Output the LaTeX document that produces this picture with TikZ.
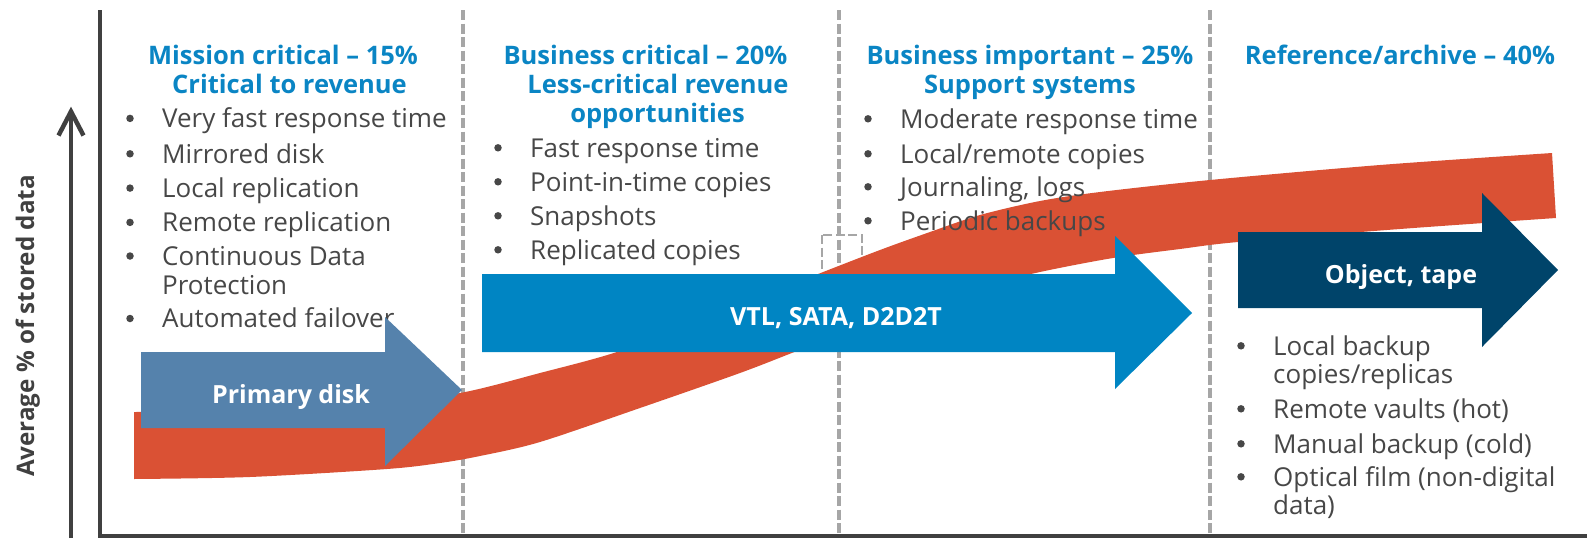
\documentclass[tikz,border=0pt]{standalone}
\usepackage{fontspec}
\setmainfont{Open Sans}
\definecolor{titleblue}{HTML}{0A85C4}
\definecolor{bodygray}{HTML}{474747}
\definecolor{framegray}{HTML}{404040}
\definecolor{divgray}{HTML}{A6A6A6}
\definecolor{bandorange}{HTML}{DA5134}
\definecolor{primblue}{HTML}{5582AC}
\definecolor{vtlblue}{HTML}{0085C3}
\definecolor{tapenavy}{HTML}{00446A}
\tikzset{
  coltitle/.style={text=titleblue, font=\bfseries\fontsize{25.5}{30}\selectfont, anchor=base, inner sep=0pt},
  item/.style={text=bodygray, font=\fontsize{26}{30}\selectfont, anchor=base west, inner sep=0pt},
  bul/.style={circle, fill=bodygray, inner sep=0pt, minimum size=7.5pt},
  arrlabel/.style={text=white, font=\bfseries\fontsize{25}{30}\selectfont, anchor=base, inner sep=0pt},
  divider/.style={divgray, line width=3.3pt, dash pattern=on 10pt off 3.5pt},
  frameline/.style={framegray, line width=4.5pt},
}
\begin{document}
\begin{tikzpicture}[x=1pt,y=-1pt]
\useasboundingbox (0,0) rectangle (1587,538);
% dividers
\foreach \dx in {463,839,1210} {\draw[divider] (\dx,10) -- (\dx,534);}
\draw[divider, line width=2.8pt, dash pattern=on 9pt off 3.5pt] (822,235) rectangle (862,300);
% orange band
\fill[bandorange] plot[smooth, tension=0.5] coordinates {(134,412) (250,411) (360,406) (460,393) (540,373) (620,351) (720,313) (813,276) (880,250) (930,232) (980,215) (1040,201) (1100,192) (1210,180) (1380,165) (1552,153)}
  -- plot[smooth, tension=0.5] coordinates {(1556,218) (1400,229) (1238,242) (1180,249) (1113,258) (1040,272) (980,287) (920,305) (860,327) (797,351) (740,373) (640,408) (540,442) (480,456) (440,463) (387,469) (250,477) (134,479)} -- cycle;
% frame
\draw[frameline] (100,10) -- (100,536) -- (1587,536);
\coordinate (ybot) at (71,538);
\coordinate (ytop) at (71,113);
\draw[frameline] (ybot) -- (ytop);
\draw[frameline, line join=miter] (58.5,135.5) -- (71,111.5) -- (83.5,135.5);
\node[rotate=90, anchor=base, inner sep=0pt, text=framegray, font=\bfseries\fontsize{24.2}{28}\selectfont] (ylab) at (34,326) {Average \% of stored data};
% column 1
\node[coltitle] (t1a) at (283,64.5) {Mission critical – 15\%};
\node[coltitle] (t1b) at (289.5,93.7) {Critical to revenue};
\foreach \yy/\tx [count=\i] in {127.6/Very fast response time,163/Mirrored disk,197.3/Local replication,231.6/Remote replication,265.2/Continuous Data,327.7/Automated failover} {
  \node[bul] (b1\i) at (130,\yy-9.2) {};
  \node[item] (i1\i) at (162,\yy) {\tx};
}
\node[item] (i1p) at (162,294.4) {Protection};
% column 2
\node[coltitle] (t2a) at (645.5,64) {Business critical – 20\%};
\node[coltitle] (t2b) at (658,93) {Less-critical revenue};
\node[coltitle] (t2c) at (657.5,122) {opportunities};
\foreach \yy/\tx [count=\i] in {157/Fast response time,191/Point-in-time copies,225/Snapshots,259/Replicated copies} {
  \node[bul] (b2\i) at (498,\yy-9.2) {};
  \node[item] (i2\i) at (530,\yy) {\tx};
}
% column 3
\node[coltitle] (t3a) at (1030,64) {Business important – 25\%};
\node[coltitle] (t3b) at (1030,93) {Support systems};
\foreach \yy/\tx [count=\i] in {128/Moderate response time,163/Local\slash remote copies,196/{Journaling, logs},230/Periodic backups} {
  \node[bul] (b3\i) at (868,\yy-9.2) {};
  \node[item] (i3\i) at (900,\yy) {\tx};
}
% column 4
\node[coltitle] (t4a) at (1400,64) {Reference/archive – 40\%};
\foreach \yy/\tx [count=\i] in {355/Local backup,418/Remote vaults (hot),453/Manual backup (cold),486/Optical film (non-digital} {
  \node[bul] (b4\i) at (1241,\yy-9.2) {};
  \node[item] (i4\i) at (1273,\yy) {\tx};
}
\node[item] (i4a) at (1273,383) {copies/replicas};
\node[item] (i4b) at (1273,514) {data)};
% arrows
\fill[primblue] (141,352) -- (385,352) -- (385,317) -- (462,390) -- (385,466) -- (385,428) -- (141,428) -- cycle;
\node[arrlabel] (prim) at (291,403) {Primary disk};
\fill[vtlblue] (482,274) -- (1115,274) -- (1115,236) -- (1192,313) -- (1115,389) -- (1115,352) -- (482,352) -- cycle;
\node[arrlabel] (vtl) at (836,325) {VTL, SATA, D2D2T};
\fill[tapenavy] (1238,232) -- (1482,232) -- (1482,193) -- (1558,270) -- (1482,347) -- (1482,308) -- (1238,308) -- cycle;
\node[arrlabel] (tape) at (1401,283) {Object, tape};
\end{tikzpicture}
\end{document}
